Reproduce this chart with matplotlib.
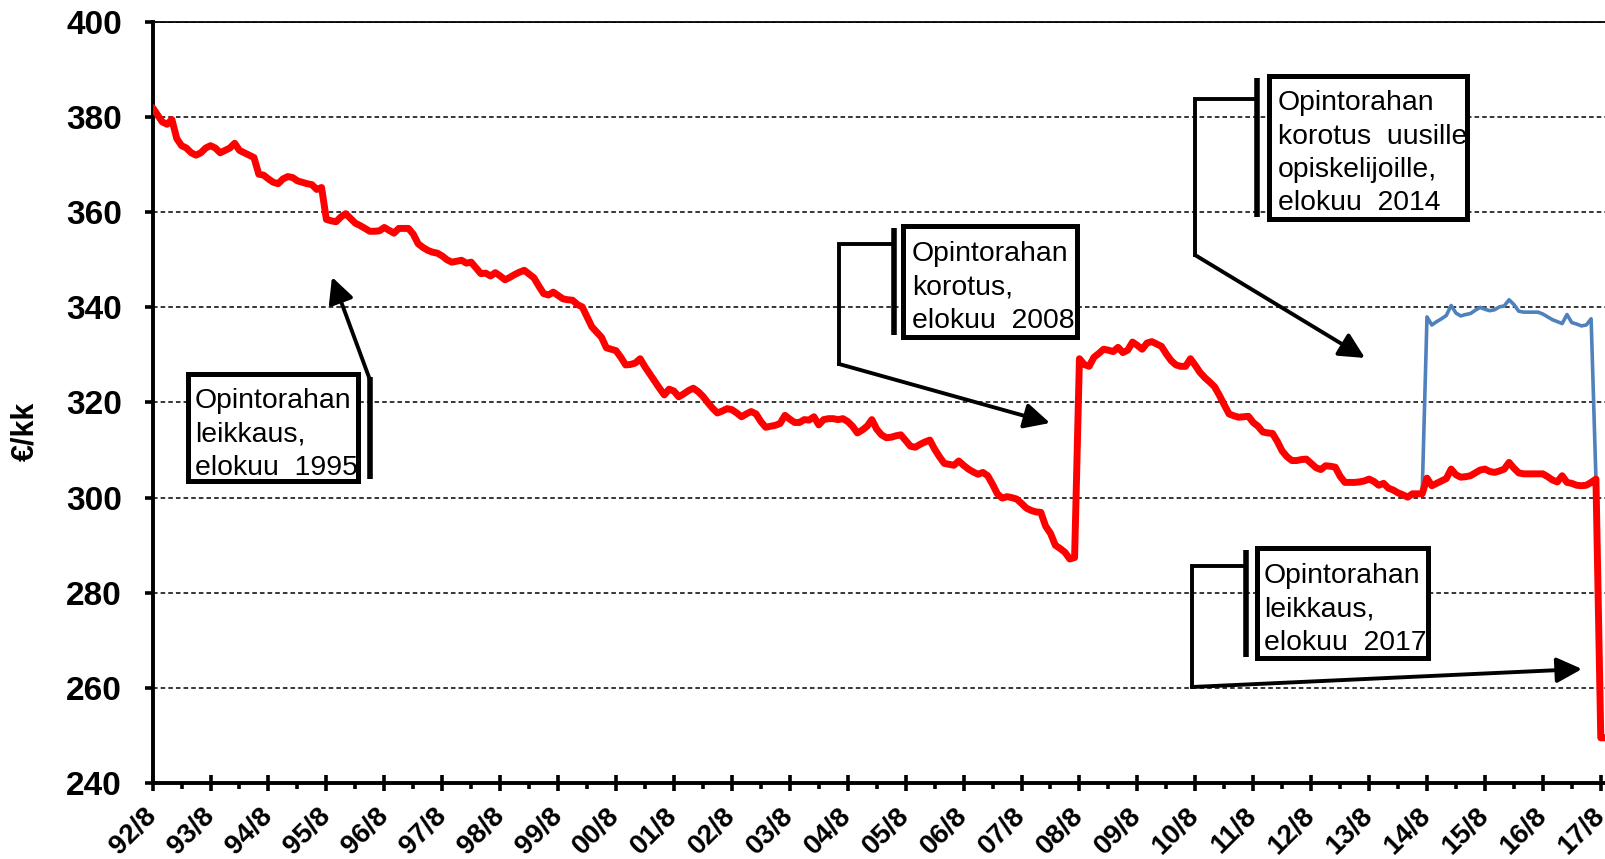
import numpy as np
import matplotlib
matplotlib.use("Agg")
import matplotlib.pyplot as plt
from matplotlib.patches import Rectangle, FancyArrowPatch

plt.rcParams['font.family'] = ['Liberation Sans', 'DejaVu Sans']

# opintoraha (€/kk) kuukausittain, elokuu 1992 -> syyskuu 2017
red_92 = [382, 380.5, 379, 378.5, 379.5, 375.5, 374, 373.5, 372.5, 372, 372.5, 373.5]
red_93 = [374, 373.5, 372.5, 373, 373.5, 374.5, 373, 372.5, 372, 371.5, 368, 367.8]
red_94 = [367, 366.3, 366, 367, 367.5, 367.3, 366.6, 366.3, 366, 365.8, 364.8, 365.2]
red_95 = [358.5, 358.2, 358, 359, 359.7, 358.7, 357.7, 357.2, 356.6, 356, 356, 356.1]
red_96 = [356.8, 356.2, 355.6, 356.6, 356.6, 356.6, 355.4, 353.4, 352.6, 352, 351.6, 351.4]
red_97 = [350.8, 350, 349.5, 349.7, 349.9, 349.3, 349.5, 348.3, 347.1, 347.2, 346.6, 347.3]
red_98 = [346.6, 345.8, 346.3, 346.9, 347.4, 347.8, 347, 346.2, 344.5, 342.9, 342.6, 343.2]
red_99 = [342.5, 341.8, 341.6, 341.5, 340.6, 340.1, 338, 335.9, 334.8, 333.7, 331.5, 331.2]
red_00 = [330.9, 329.5, 327.9, 328, 328.3, 329.2, 327.5, 326, 324.5, 323, 321.6, 322.8]
red_01 = [322.4, 321.2, 321.8, 322.5, 323, 322.3, 321.3, 320, 318.8, 317.8, 318.2, 318.7]
red_02 = [318.5, 317.8, 317, 317.6, 318.1, 317.6, 316, 314.8, 315, 315.2, 315.6, 317.3]
red_03 = [316.5, 315.8, 315.8, 316.4, 316.3, 317, 315.3, 316.4, 316.6, 316.6, 316.4, 316.6]
red_04 = [316, 315, 313.6, 314.2, 315, 316.4, 314.4, 313.2, 312.6, 312.7, 313, 313.2]
red_05 = [312, 310.8, 310.6, 311.2, 311.7, 312.1, 310.2, 308.6, 307.2, 307, 306.8, 307.7]
red_06 = [306.8, 306, 305.4, 304.9, 305.3, 304.6, 302.8, 300.8, 299.9, 300.2, 300, 299.7]
red_07 = [298.8, 297.8, 297.3, 297, 296.9, 294, 292.5, 290, 289.3, 288.5, 287.1, 287.4]
red_08 = [329.2, 328, 327.6, 329.5, 330.3, 331.2, 331, 330.7, 331.6, 330.5, 331, 332.7]
red_09 = [332, 331.2, 332.5, 332.8, 332.3, 331.8, 330.2, 328.8, 327.9, 327.6, 327.6, 329.2]
red_10 = [327.8, 326.3, 325.2, 324.3, 323.3, 321.5, 319.5, 317.6, 317.2, 316.9, 317, 317.1]
red_11 = [315.8, 315, 313.8, 313.6, 313.5, 311.8, 309.8, 308.6, 307.8, 307.8, 308, 308.1]
red_12 = [307.2, 306.3, 305.9, 306.7, 306.6, 306.4, 304.5, 303.2, 303.2, 303.2, 303.3, 303.5]
red_13 = [303.9, 303.4, 302.6, 303, 302, 301.6, 301, 300.6, 300.1, 300.8, 300.8, 300.8]
red_14 = [304.1, 302.5, 303, 303.5, 304, 306, 304.8, 304.3, 304.4, 304.6, 305.2, 305.8]
red_15 = [306, 305.5, 305.3, 305.6, 306, 307.4, 306.2, 305.2, 305, 305, 305, 305]
red_16 = [305, 304.4, 303.7, 303.3, 304.6, 303.2, 303, 302.6, 302.5, 302.6, 303.2, 303.9]
red_17 = [249.5, 249.5]

opintoraha = (red_92 + red_93 + red_94 + red_95 + red_96 + red_97 + red_98 + red_99
              + red_00 + red_01 + red_02 + red_03 + red_04 + red_05 + red_06 + red_07
              + red_08 + red_09 + red_10 + red_11 + red_12 + red_13 + red_14 + red_15
              + red_16 + red_17)

# uusien opiskelijoiden korotettu opintoraha, 14/7 -> 17/7
uusi_alku = 263
uusi = ([300.8]
        + [338, 336.3, 337, 337.6, 338.3, 340.4, 338.8, 338.2, 338.5, 338.7, 339.4, 340]
        + [339.6, 339.3, 339.5, 340.1, 340.3, 341.6, 340.6, 339.2, 339, 339, 339, 339]
        + [338.6, 338, 337.4, 337, 336.6, 338.5, 336.8, 336.5, 336.1, 336.3, 337.6]
        + [303.9])

x_labels = ['92/8', '93/8', '94/8', '95/8', '96/8', '97/8', '98/8', '99/8', '00/8',
            '01/8', '02/8', '03/8', '04/8', '05/8', '06/8', '07/8', '08/8', '09/8',
            '10/8', '11/8', '12/8', '13/8', '14/8', '15/8', '16/8', '17/8']
y_ticks = [240, 260, 280, 300, 320, 340, 360, 380, 400]

W, H = 1606, 859
fig = plt.figure(figsize=(W / 100, H / 100), dpi=100)
ax = fig.add_axes([152.6 / W, 1 - 783 / H, 1453 / W, 761 / H])

months = np.arange(len(opintoraha))
ax.plot(np.arange(uusi_alku, uusi_alku + len(uusi)), uusi, color='#4F81BD', lw=2.6, zorder=2)
ax.plot(months, opintoraha, color='#FF0000', lw=5.0, zorder=3,
        solid_joinstyle='round', solid_capstyle='round')

ax.set_xlim(0, 301)
ax.set_ylim(240, 400)
ax.set_yticks(y_ticks)
ax.set_xticks(np.arange(0, 12 * len(x_labels), 12))
ax.set_xticks(np.arange(6, 301, 12), minor=True)
ax.set_xticklabels(x_labels, rotation=45, ha='right', va='center',
                   rotation_mode='anchor', fontsize=20, fontweight='bold')
ax.set_yticklabels([str(v) for v in y_ticks], fontsize=24, fontweight='bold')

ax.grid(axis='y', color='black', lw=1.1, linestyle=(0, (3, 2)))
ax.set_axisbelow(True)
ax.spines['right'].set_visible(False)
ax.spines['top'].set_linewidth(1.3)
ax.spines['left'].set_linewidth(2.8)
ax.spines['bottom'].set_linewidth(2.8)
ax.tick_params(axis='y', direction='out', length=6, width=2.6, pad=16)
ax.tick_params(axis='x', which='major', direction='inout', length=12, width=2.6, pad=15)
ax.tick_params(axis='x', which='minor', direction='out', length=4, width=2.6)

ax.set_ylabel('€/kk', fontsize=22, fontweight='bold')
ax.yaxis.set_label_coords(-0.077, 0.462)

# huomautuslaatikot pikselikoordinaateissa
ov = fig.add_axes([0, 0, 1, 1])
ov.set_xlim(0, W)
ov.set_ylim(H, 0)
ov.axis('off')
ov.patch.set_alpha(0)

callouts = [
    dict(lines=['Opintorahan', 'leikkaus,', 'elokuu  1995'],
         box=(188, 374, 358, 481), bar=(370, 377, 479), text=(195, 408),
         leader=[(370, 380)], tip=(332, 277)),
    dict(lines=['Opintorahan', 'korotus,', 'elokuu  2008'],
         box=(903, 226, 1077, 337), bar=(894, 228, 335), text=(912, 261),
         leader=[(894, 244), (839, 244), (839, 364)], tip=(1050, 423)),
    dict(lines=['Opintorahan', 'korotus  uusille', 'opiskelijoille,', 'elokuu  2014'],
         box=(1269, 76, 1467, 219), bar=(1257, 78, 217), text=(1278, 110),
         leader=[(1257, 99), (1195, 99), (1195, 255)], tip=(1365, 358)),
    dict(lines=['Opintorahan', 'leikkaus,', 'elokuu  2017'],
         box=(1257, 548, 1428, 658), bar=(1246, 550, 657), text=(1264, 583),
         leader=[(1246, 566), (1192, 566), (1192, 687)], tip=(1582, 669)),
]

for c in callouts:
    l, t, r, b = c['box']
    ov.add_patch(Rectangle((l, t), r - l, b - t, facecolor='white', edgecolor='black', lw=3.6))
    bx, by0, by1 = c['bar']
    ov.plot([bx, bx], [by0, by1], color='black', lw=4.0, solid_capstyle='butt')
    pts = c['leader']
    if len(pts) > 1:
        ov.plot([p[0] for p in pts], [p[1] for p in pts], color='black', lw=2.8,
                solid_joinstyle='miter')
    ov.add_patch(FancyArrowPatch(pts[-1], c['tip'], arrowstyle='-|>,head_length=0.7,head_width=0.35',
                                 mutation_scale=22, lw=2.8, color='black',
                                 shrinkA=0, shrinkB=0))
    tx, ty = c['text']
    for i, line in enumerate(c['lines']):
        ov.text(tx, ty + i * 33.5, line, fontsize=20.4, ha='left', va='baseline', color='black')

fig.savefig('out.png', dpi=100, facecolor='white')
